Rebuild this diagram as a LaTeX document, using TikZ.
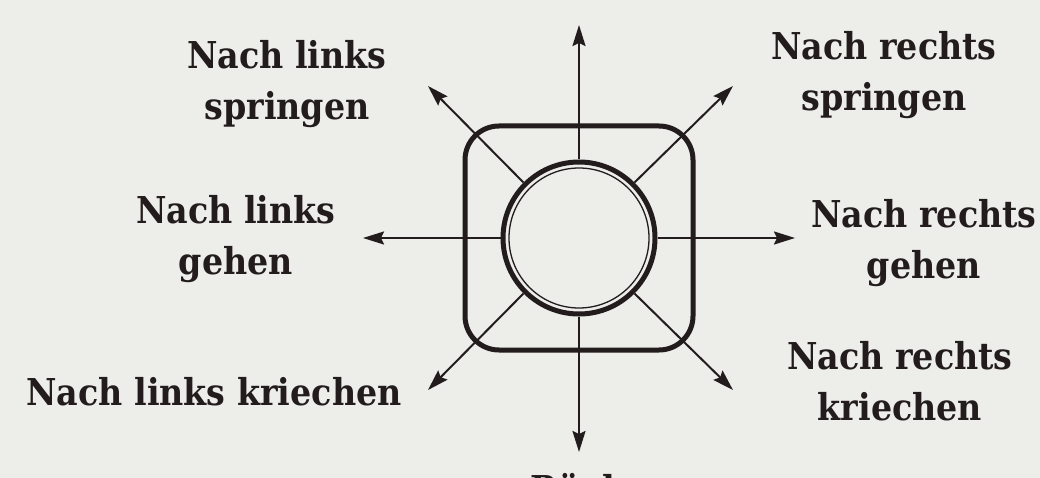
\documentclass[tikz,border=0pt]{standalone}
\usepackage{fontspec}
\setmainfont{DejaVu Serif Condensed}[BoldFont={DejaVu Serif Condensed Bold}]
\usetikzlibrary{arrows.meta}
\definecolor{paper}{HTML}{EDEDEA}
\definecolor{ink}{HTML}{231C1C}
\tikzset{
  lbl/.style={text=ink, font=\fontsize{37}{51}\selectfont\bfseries, align=center, inner sep=0pt},
  arr/.style={draw=ink, line width=2pt, -{Stealth[length=21pt,width=13pt,inset=3pt]}},
  ring/.style={circle, draw=ink, line width=5pt, minimum size=152pt, inner sep=0pt},
  thin/.style={circle, draw=ink, line width=1.3pt, minimum size=140pt, inner sep=0pt},
  box/.style={draw=ink, line width=5pt, rounded corners=34pt, minimum width=228pt, minimum height=224pt, inner sep=0pt}
}
\begin{document}
\begin{tikzpicture}[x=1pt,y=-1pt]
\useasboundingbox (0,0) rectangle (1040,478);
\clip (0,0) rectangle (1040,478);
\fill[paper] (0,0) rectangle (1040,478);
\node[box] (sq) at (579,238) {};
\node[ring] (c) at (579,238) {};
\node[thin] (ci) at (579,238) {};
\coordinate (tN) at (579,25);
\coordinate (tS) at (579,452);
\coordinate (tW) at (363,238);
\coordinate (tE) at (795,238);
\coordinate (tNW) at (428,86);
\coordinate (tNE) at (733,86);
\coordinate (tSW) at (428,390);
\coordinate (tSE) at (733,390);
\draw[arr] (c.north) -- (tN);
\draw[arr] (c.south) -- (tS);
\draw[arr] (c.west) -- (tW);
\draw[arr] (c.east) -- (tE);
\draw[arr] (c.north west) -- (tNW);
\draw[arr] (c.north east) -- (tNE);
\draw[arr] (c.south west) -- (tSW);
\draw[arr] (c.south east) -- (tSE);
\node[lbl] (lNW) at (287,84) {Nach links\\springen};
\node[lbl] (lNE) at (884,75) {Nach rechts\\springen};
\node[lbl] (lW) at (236,239) {Nach links\\gehen};
\node[lbl] (lE) at (924,243) {Nach rechts\\gehen};
\node[lbl] (lSE) at (900,381) {Nach rechts\\kriechen};
\node[lbl] (lSW) at (214,392) {Nach links kriechen};
\node[lbl, anchor=base west] (lS) at (530,502) {Rück};
\end{tikzpicture}
\end{document}
